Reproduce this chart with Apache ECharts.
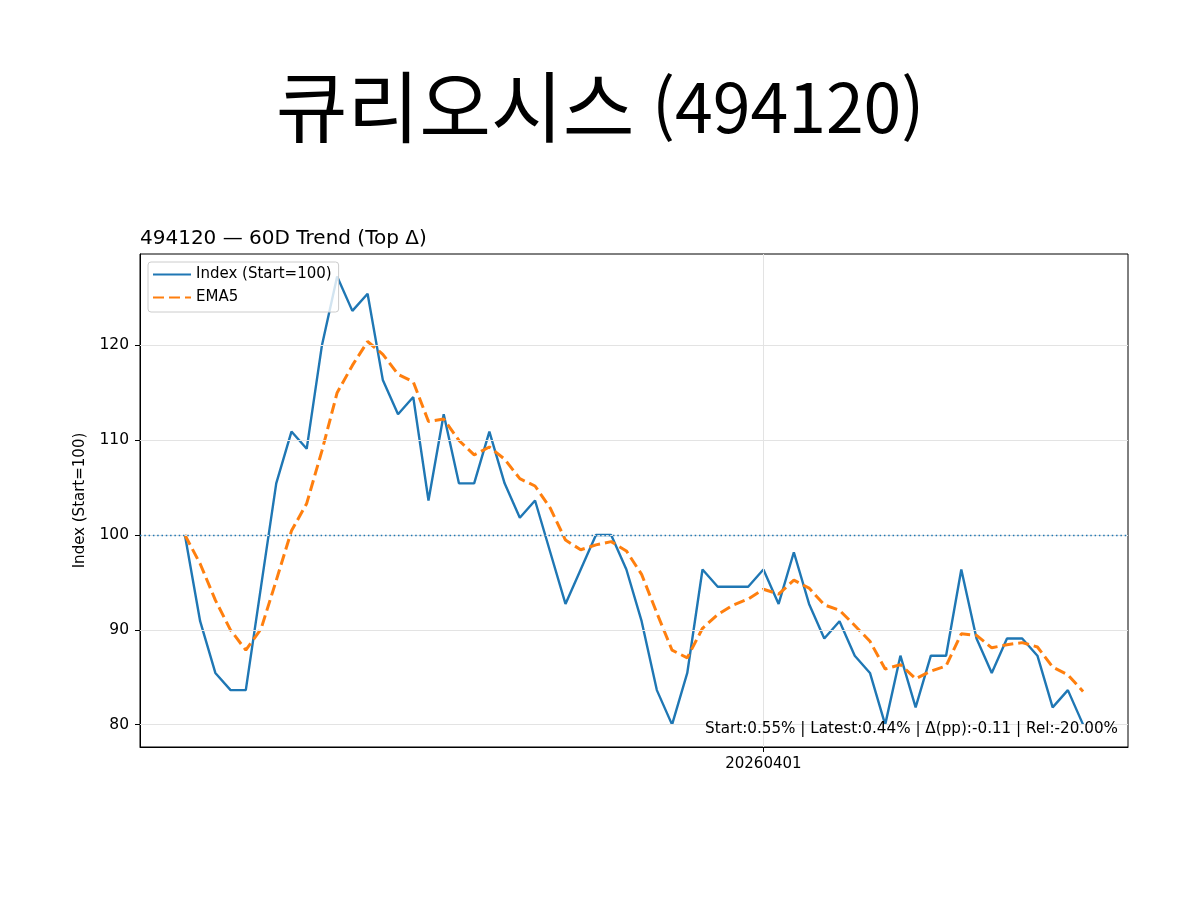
<!DOCTYPE html>
<html lang="ko">
<head>
    <meta charset="UTF-8">
    <title>494120 60D Trend</title>
    <script src="https://cdn.jsdelivr.net/npm/echarts@6/dist/echarts.min.js"></script>
    <style>
        html, body { margin: 0; padding: 0; background: #fff; }
        #main { width: 1200px; height: 900px; }
    </style>
</head>
<body>
<div id="main"></div>
<script type="text/javascript">
    // 거래일 (60D)
    var dates = [
        '20260202', '20260203', '20260204', '20260205', '20260206', '20260209', '20260210', '20260211', '20260212', '20260213',
        '20260219', '20260220', '20260223', '20260224', '20260225', '20260226', '20260227', '20260303', '20260304', '20260305',
        '20260306', '20260309', '20260310', '20260311', '20260312', '20260313', '20260316', '20260317', '20260318', '20260319',
        '20260320', '20260323', '20260324', '20260325', '20260326', '20260327', '20260330', '20260331', '20260401', '20260402',
        '20260403', '20260406', '20260407', '20260408', '20260409', '20260410', '20260413', '20260414', '20260415', '20260416',
        '20260417', '20260420', '20260421', '20260422', '20260423', '20260424', '20260427', '20260428', '20260429', '20260430'
    ];
    // Index (Start=100)
    var indexValues = [
        100, 90.91, 85.45, 83.64, 83.64, 94.55, 105.45, 110.91, 109.09, 120,
        127.27, 123.64, 125.45, 116.36, 112.73, 114.55, 103.64, 112.73, 105.45, 105.45,
        110.91, 105.45, 101.82, 103.64, 98.18, 92.73, 96.36, 100, 100, 96.36,
        90.91, 83.64, 80, 85.45, 96.36, 94.55, 94.55, 94.55, 96.36, 92.73,
        98.18, 92.73, 89.09, 90.91, 87.27, 85.45, 80, 87.27, 81.82, 87.27,
        87.27, 96.36, 89.09, 85.45, 89.09, 89.09, 87.27, 81.82, 83.64, 80
    ];
    // EMA5
    var ema5Values = [
        100, 96.97, 93.13, 89.97, 87.86, 90.09, 95.21, 100.44, 103.33, 108.88,
        115.01, 117.89, 120.41, 119.06, 116.95, 116.15, 111.98, 112.23, 109.97, 108.46,
        109.28, 108.00, 105.94, 105.17, 102.84, 99.47, 98.44, 98.96, 99.30, 98.32,
        95.85, 91.78, 87.85, 87.05, 90.16, 91.62, 92.60, 93.25, 94.28, 93.77,
        95.24, 94.40, 92.63, 92.06, 90.46, 88.79, 85.86, 86.33, 84.83, 85.64,
        86.19, 89.58, 89.42, 88.10, 88.43, 88.65, 88.19, 86.07, 85.26, 83.50
    ];
    var yTicks = [80, 90, 100, 110, 120];
    var xTickDates = ['20260401'];
    var baseLine = 100;
    var stockName = '큐리오시스';
    var stockCode = '494120';
    var statText = 'Start:0.55% | Latest:0.44% | Δ(pp):-0.11 | Rel:-20.00%';

    var xTicks = xTickDates.map(function (d) { return dates.indexOf(d); });
    var n = dates.length;
    var pad = (n - 1) * 0.05;

    function pairs(arr) {
        return arr.map(function (v, i) { return [i, v]; });
    }

    var myChart = echarts.init(document.getElementById('main'));
    var font = 'DejaVu Sans';

    // 격자선 (matplotlib 스타일)
    var gridLines = yTicks.map(function (t) { return {yAxis: t}; })
        .concat(xTicks.map(function (t) { return {xAxis: t}; }));

    myChart.setOption({
        animation: false,
        backgroundColor: '#fff',
        title: [{
            text: '{ko|' + stockName + ' }{num|(' + stockCode + ')}',
            left: 'center',
            top: 54,
            textStyle: {
                fontWeight: 'normal',
                rich: {
                    ko: {fontFamily: 'Noto Sans CJK KR', fontSize: 78, fontWeight: 'normal', lineHeight: 96, color: '#000'},
                    num: {fontFamily: 'Noto Sans CJK KR', fontSize: 68, fontWeight: 'normal', lineHeight: 96, color: '#000'}
                }
            }
        }, {
            text: stockCode + ' — 60D Trend (Top Δ)',
            left: 140,
            top: 229,
            padding: 0,
            textStyle: {fontFamily: font, fontSize: 20, fontWeight: 'normal', color: '#000'}
        }],
        legend: {
            left: 148,
            top: 262,
            orient: 'vertical',
            itemWidth: 38,
            itemHeight: 14,
            itemGap: 8,
            padding: [5, 7, 7, 4],
            borderColor: '#cccccc',
            borderWidth: 1,
            borderRadius: 3,
            backgroundColor: 'rgba(255,255,255,0.8)',
            itemStyle: {opacity: 0},
            textStyle: {fontFamily: font, fontSize: 15, color: '#000'},
            data: ['Index (Start=100)', 'EMA5']
        },
        grid: {
            left: 140, right: 72, top: 254, bottom: 153,
            show: true, borderColor: '#000', borderWidth: 1,
            containLabel: false
        },
        xAxis: {
            type: 'value',
            min: -pad,
            max: n - 1 + pad,
            axisLine: {show: true, onZero: false, lineStyle: {color: '#000', width: 1}},
            axisTick: {show: true, length: 5, customValues: xTicks, lineStyle: {color: '#000'}},
            axisLabel: {
                customValues: xTicks,
                margin: 10,
                fontFamily: font, fontSize: 15, color: '#000',
                formatter: function (v) { return dates[Math.round(v)] || ''; }
            },
            splitLine: {show: false}
        },
        yAxis: {
            type: 'value',
            min: 77.64,
            max: 129.64,
            name: 'Index (Start=100)',
            nameLocation: 'middle',
            nameGap: 52,
            nameTextStyle: {fontFamily: font, fontSize: 15, color: '#000'},
            axisLine: {show: true, onZero: false, lineStyle: {color: '#000', width: 1}},
            axisTick: {show: true, length: 5, customValues: yTicks, lineStyle: {color: '#000'}},
            axisLabel: {customValues: yTicks, margin: 11, fontFamily: font, fontSize: 15.5, color: '#000'},
            splitLine: {show: false}
        },
        graphic: [{
            type: 'text',
            x: 1118,
            y: 729,
            z: 100,
            style: {
                text: statText,
                align: 'right',
                verticalAlign: 'middle',
                fontFamily: font,
                fontSize: 15.2,
                fill: '#000'
            }
        }],
        series: [{
            name: 'grid',
            type: 'line',
            data: [],
            silent: true,
            z: 1,
            markLine: {
                silent: true,
                symbol: 'none',
                label: {show: false},
                lineStyle: {color: '#e3e3e3', type: 'solid', width: 1},
                data: gridLines
            }
        }, {
            name: 'Index (Start=100)',
            type: 'line',
            data: pairs(indexValues),
            showSymbol: false,
            symbol: 'none',
            z: 3,
            lineStyle: {color: '#1f77b4', width: 2.4},
            itemStyle: {color: '#1f77b4'},
            markLine: {
                silent: true,
                symbol: 'none',
                label: {show: false},
                lineStyle: {color: '#1f77b4', type: [1.5, 2.8], width: 1.4},
                data: [{yAxis: baseLine}]
            }
        }, {
            name: 'EMA5',
            type: 'line',
            data: pairs(ema5Values),
            showSymbol: false,
            symbol: 'none',
            z: 4,
            lineStyle: {color: '#ff7f0e', width: 3, type: [11, 5]},
            itemStyle: {color: '#ff7f0e'}
        }]
    });
</script>
</body>
</html>
